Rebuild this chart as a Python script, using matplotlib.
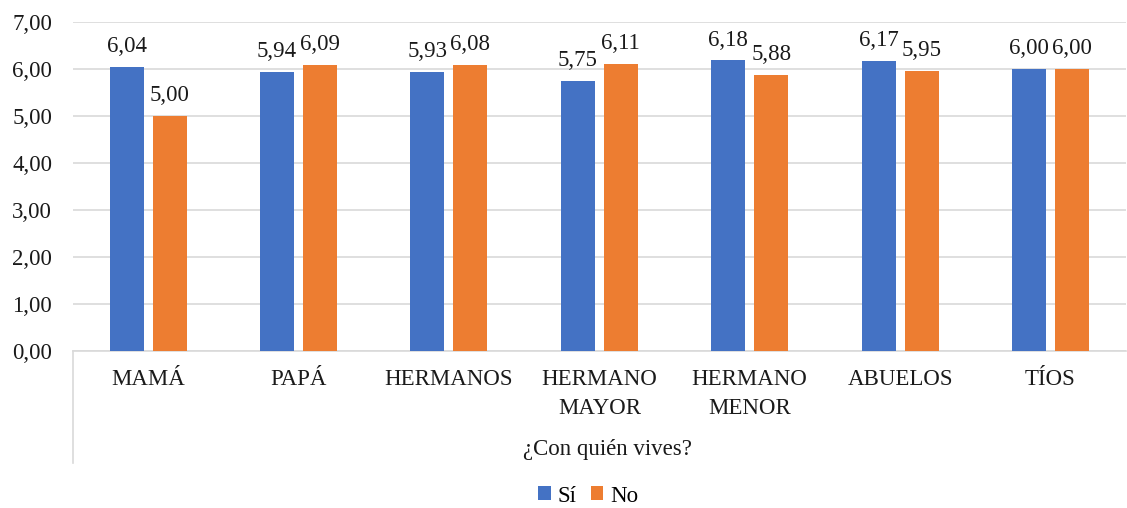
import matplotlib
matplotlib.use("Agg")
import matplotlib.pyplot as plt
import numpy as np
from matplotlib.lines import Line2D
from matplotlib.patches import Patch

categories = ["MAMÁ", "PAPÁ", "HERMANOS", "HERMANO\nMAYOR", "HERMANO\nMENOR", "ABUELOS", "TÍOS"]
si_values = [6.04, 5.94, 5.93, 5.75, 6.18, 6.17, 6.00]
no_values = [5.00, 6.09, 6.08, 6.11, 5.88, 5.95, 6.00]
series_names = ["Sí", "No"]
axis_title = "¿Con quién vives?"

BLUE = "#4472C4"
ORANGE = "#ED7D31"
GRID = "#D9D9D9"
TEXT = "#1a1a1a"
FS = 16.5

plt.rcParams["font.family"] = ["Liberation Serif", "DejaVu Serif"]

fig = plt.figure(figsize=(11.27, 5.08), dpi=100)
ax = fig.add_axes([0.0648, 0.309, 0.934, 0.648])

x = np.arange(len(categories))
w = 0.226
off = 0.143
b1 = ax.bar(x - off, si_values, w, color=BLUE, zorder=3)
b2 = ax.bar(x + off, no_values, w, color=ORANGE, zorder=3)

def fmt(v):
    return f"{v:.2f}".replace(".", ",")

for bars, vals in ((b1, si_values), (b2, no_values)):
    for rect, v in zip(bars, vals):
        ax.annotate(fmt(v), (rect.get_x() + rect.get_width() / 2, v),
                    xytext=(0, 7), textcoords="offset points",
                    ha="center", va="bottom", fontsize=FS, color=TEXT)

ax.set_xlim(-0.5, len(categories) - 0.5)
ax.set_ylim(0, 7)
ax.set_yticks(np.arange(0, 8, 1))
ax.set_yticklabels([fmt(v) for v in np.arange(0, 8, 1)], fontsize=FS, color=TEXT)
ax.set_xticks(x)
ax.set_xticklabels(categories, fontsize=FS, color=TEXT, linespacing=1.5)
ax.tick_params(axis="both", length=0)
ax.tick_params(axis="x", pad=13)
ax.tick_params(axis="y", pad=15)

ax.grid(axis="y", color=GRID, linewidth=1.2, zorder=0)
for s in ("top", "right", "left"):
    ax.spines[s].set_visible(False)
ax.spines["bottom"].set_color(GRID)
ax.spines["bottom"].set_linewidth(1.2)

# left boundary of the category axis, reaching down past the axis title
ax.add_line(Line2D([0, 0], [0, -0.34], transform=ax.transAxes,
                   color=GRID, linewidth=1.2, clip_on=False))

fig.text(0.539, 1 - 450 / 508, axis_title, ha="center", va="center",
         fontsize=FS, color=TEXT)

handles = [Patch(facecolor=BLUE), Patch(facecolor=ORANGE)]
fig.legend(handles, series_names, loc="center", bbox_to_anchor=(0.522, 1 - 496 / 508),
           ncol=2, frameon=False, fontsize=FS, handlelength=0.55, handleheight=0.55,
           handletextpad=0.3, columnspacing=0.6)

fig.savefig("out.png", dpi=100)
